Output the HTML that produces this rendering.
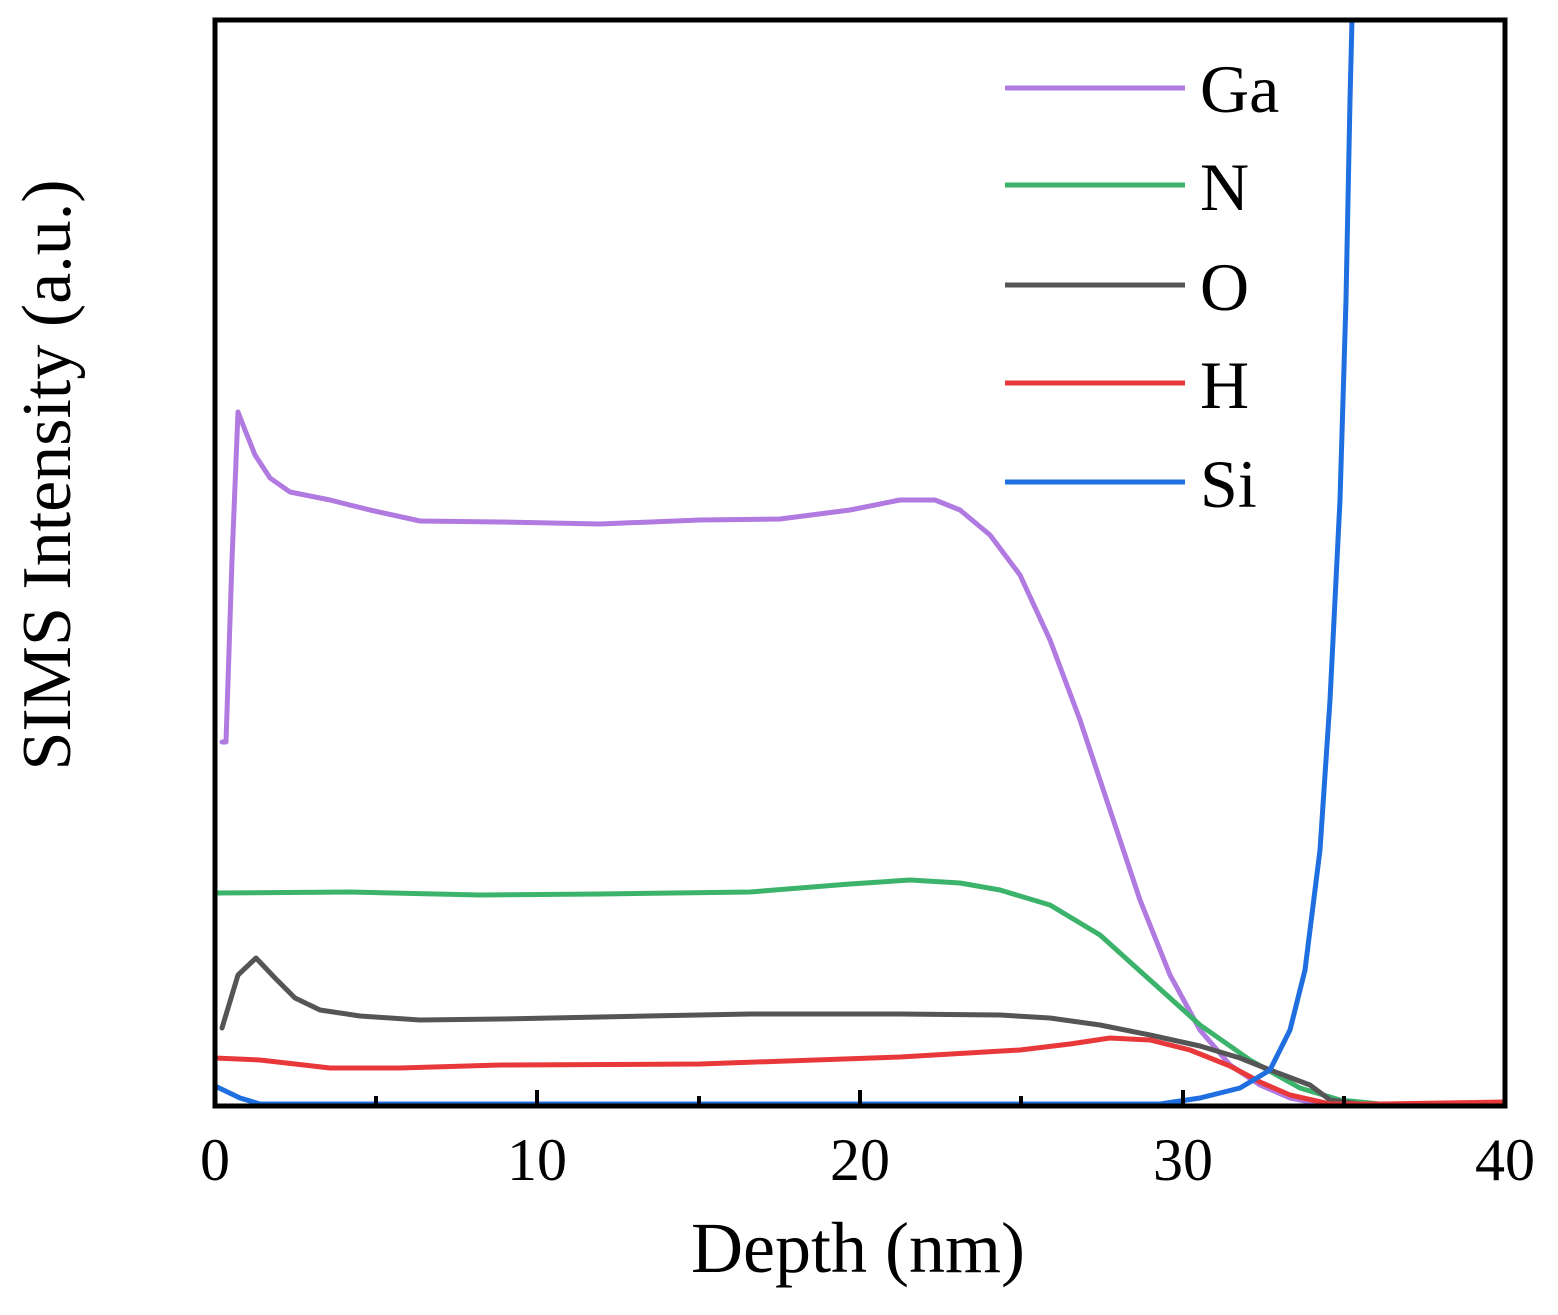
<!DOCTYPE html>
<html><head><meta charset="utf-8"><style>
html,body{margin:0;padding:0;background:#fff;}
svg{display:block;}
text{font-family:"Liberation Serif",serif;fill:#000;}
</style></head><body>
<svg width="1558" height="1315" viewBox="0 0 1558 1315" xmlns="http://www.w3.org/2000/svg">
<g fill="none" stroke-width="5" stroke-linejoin="round" stroke-linecap="round">
<path stroke="#b07ae0" d="M222,742 L226,742 L232,560 L238,412 L245,430 L255,455 L270,478 L290,492 L330,500 L370,510 L420,521 L500,522 L600,524 L700,520 L780,519 L850,510 L900,500 L935,500 L960,510 L990,535 L1020,575 L1050,640 L1080,720 L1110,810 L1140,900 L1170,975 L1200,1030 L1230,1065 L1260,1085 L1290,1098 L1320,1104 L1505,1104"/>
<path stroke="#3cb36a" d="M215,893 L350,892 L480,895 L600,894 L750,892 L850,884 L910,880 L960,883 L1000,890 L1050,905 L1100,935 L1150,980 L1200,1025 L1250,1060 L1300,1088 L1340,1100 L1380,1104 L1505,1104"/>
<path stroke="#555555" d="M222,1028 L238,975 L256,958 L275,978 L295,998 L320,1010 L360,1016 L420,1020 L500,1019 L600,1017 L750,1014 L900,1014 L1000,1015 L1050,1018 L1100,1025 L1150,1035 L1200,1046 L1240,1058 L1270,1070 L1310,1085 L1330,1100 L1360,1104"/>
<path stroke="#e8383a" d="M215,1058 L260,1060 L330,1068 L400,1068 L500,1065 L700,1064 L900,1057 L1020,1050 L1070,1044 L1110,1038 L1150,1040 L1190,1050 L1230,1066 L1260,1082 L1290,1095 L1330,1104 L1380,1104 L1505,1102"/>
<path stroke="#1f6fe0" d="M215,1086 L240,1098 L260,1104 L1160,1104 L1200,1098 L1240,1088 L1270,1070 L1290,1030 L1305,970 L1320,850 L1330,700 L1340,500 L1346,300 L1350,100 L1352,20"/>
</g>
<rect x="215" y="20" width="1290" height="1086" fill="none" stroke="#000" stroke-width="5"/>
<g stroke="#000" stroke-width="4">
<line x1="376" y1="1106" x2="376" y2="1096"/><line x1="537" y1="1106" x2="537" y2="1090"/>
<line x1="699" y1="1106" x2="699" y2="1096"/><line x1="860" y1="1106" x2="860" y2="1090"/>
<line x1="1021" y1="1106" x2="1021" y2="1096"/><line x1="1183" y1="1106" x2="1183" y2="1090"/>
<line x1="1344" y1="1106" x2="1344" y2="1096"/>
</g>
<g font-size="60" text-anchor="middle">
<text x="215" y="1180">0</text><text x="537" y="1180">10</text><text x="860" y="1180">20</text>
<text x="1183" y="1180">30</text><text x="1505" y="1180">40</text>
</g>
<text x="858" y="1272" font-size="72" text-anchor="middle">Depth (nm)</text>
<text transform="translate(70,475) rotate(-90)" font-size="70" text-anchor="middle">SIMS Intensity (a.u.)</text>
<g stroke-width="5">
<line x1="1005" y1="88" x2="1185" y2="88" stroke="#b07ae0"/>
<line x1="1005" y1="185" x2="1185" y2="185" stroke="#3cb36a"/>
<line x1="1005" y1="285" x2="1185" y2="285" stroke="#555555"/>
<line x1="1005" y1="383" x2="1185" y2="383" stroke="#e8383a"/>
<line x1="1005" y1="482" x2="1185" y2="482" stroke="#1f6fe0"/>
</g>
<g font-size="68">
<text x="1200" y="112">Ga</text><text x="1200" y="210">N</text><text x="1200" y="310">O</text>
<text x="1200" y="408">H</text><text x="1200" y="507">Si</text>
</g>
</svg>
</body></html>
